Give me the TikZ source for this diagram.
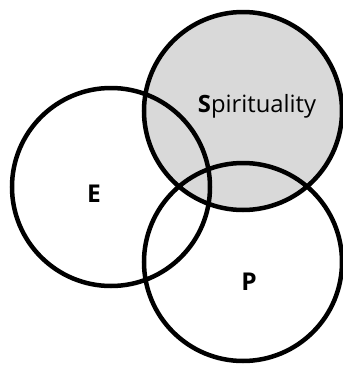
\documentclass[tikz,border=0pt]{standalone}
\usepackage{fontspec}
\setmainfont{Open Sans}
\definecolor{spiritgray}{RGB}{217,217,217}
\begin{document}
\begin{tikzpicture}[x=1pt, y=-1pt, line width=4.5pt, font=\fontsize{23.8}{28}\selectfont]
	\useasboundingbox (0,0) rectangle (343,365);
	\def\rad{99pt}
	\coordinate (cE) at (111,187);
	\coordinate (cS) at (243,111);
	\coordinate (cP) at (243,262);
	\fill[spiritgray] (cS) circle(\rad);
	\draw (cE) circle(\rad) (cS) circle(\rad) (cP) circle(\rad);
	\node[anchor=base] (spirit) at (257,112) {\textbf{S}pirituality};
	\node[anchor=base, font=\fontsize{24.5}{28}\selectfont\bfseries] (e) at (94,202) {E};
	\node[anchor=base, font=\fontsize{24.5}{28}\selectfont\bfseries] (p) at (249,290) {P};
\end{tikzpicture}
\end{document}
